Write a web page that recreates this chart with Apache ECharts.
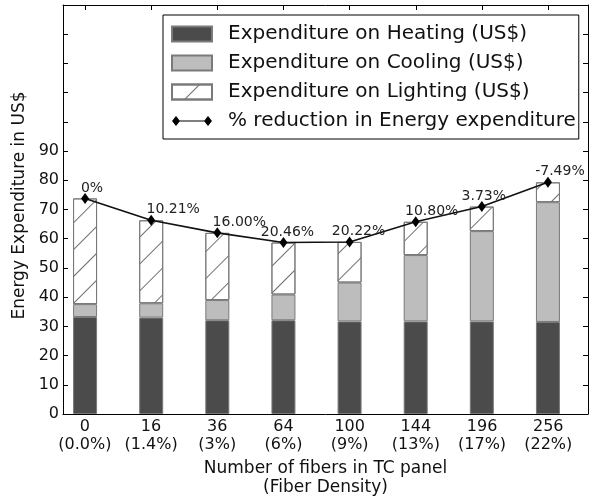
<!DOCTYPE html>
<html>
<head>
<meta charset="utf-8">
<script src="https://cdn.jsdelivr.net/npm/echarts@6/dist/echarts.min.js"></script>
<style>
  html, body { margin: 0; padding: 0; background: #fff; }
  #chart { width: 593px; height: 496px; }
</style>
</head>
<body>
<div id="chart"></div>
<script>
// values
let fibers = ['0', '16', '36', '64', '100', '144', '196', '256'];
let density = ['0.0%', '1.4%', '3%', '6%', '9%', '13%', '17%', '22%'];
let heating = [33.2, 33.0, 32.1, 32.1, 31.7, 31.7, 31.7, 31.5];
let cooling = [4.4, 4.9, 6.9, 8.8, 13.3, 22.7, 30.9, 41.0];
let lighting = [36.2, 28.4, 23.0, 17.8, 13.9, 11.4, 8.4, 6.8];
let totals = [73.8, 66.3, 62.0, 58.7, 58.9, 65.8, 71.0, 79.3];
let reduction = ['0%', '10.21%', '16.00%', '20.46%', '20.22%', '10.80%', '3.73%', '-7.49%'];

// label nudges so the annotations sit like the original
let labelDx = [7, 22, 22, 4, 9, 16, 2, 12];

let font = 'DejaVu Sans';
let idx = fibers.map((f, i) => i);

let chart = echarts.init(document.getElementById('chart'));

// grid 0 only draws the box, ticks and labels; grid 1 holds the bars
let frameX = {
  type: 'value',
  gridIndex: 0,
  min: -0.33,
  max: 7.6,
  axisLine: { show: true, onZero: false, lineStyle: { color: '#000', width: 1 } },
  axisTick: { show: true, inside: true, length: 5, customValues: idx, lineStyle: { color: '#000' } },
  axisLabel: { show: false },
  splitLine: { show: false }
};

let frameY = {
  type: 'value',
  gridIndex: 0,
  min: 0,
  max: 140,
  interval: 10,
  axisLine: { show: true, onZero: false, lineStyle: { color: '#000', width: 1 } },
  axisTick: { show: true, inside: true, length: 5, lineStyle: { color: '#000' } },
  axisLabel: { show: false },
  splitLine: { show: false }
};

let barEdge = { borderColor: '#7a7a7a', borderWidth: 1 };

let option = {
  animation: false,
  textStyle: { fontFamily: font },
  grid: [
    { left: 63, right: 5, top: 5, bottom: 82, outerBoundsMode: 'none' },
    { left: 52, right: 12, top: 5, bottom: 82, outerBoundsMode: 'none' }
  ],
  legend: {
    orient: 'vertical',
    left: 163,
    top: 15,
    backgroundColor: '#fff',
    borderColor: '#000',
    borderWidth: 1,
    borderRadius: 0,
    padding: [9, 3, 8, 8],
    itemWidth: 40,
    itemHeight: 15,
    itemGap: 9,
    textStyle: { fontFamily: font, fontSize: 20, color: '#111', padding: [0, 0, 0, 11] },
    data: [
      { name: 'Expenditure on Heating (US$)', icon: 'rect' },
      { name: 'Expenditure on Cooling (US$)', icon: 'rect' },
      { name: 'Expenditure on Lighting (US$)', icon: 'rect' },
      { name: '% reduction in Energy expenditure',
        icon: 'path://M0,5 L4,0 L8,5 L4,10 Z M7,4.4 L33,4.4 L33,5.6 L7,5.6 Z M32,5 L36,0 L40,5 L36,10 Z',
        itemStyle: { color: '#000' } }
    ]
  },
  xAxis: [
    Object.assign({}, frameX, {
      position: 'bottom',
      axisLabel: {
        show: true,
        customValues: idx,
        fontFamily: font,
        fontSize: 16,
        color: '#111',
        lineHeight: 18,
        margin: 4,
        formatter: v => fibers[Math.round(v)] + '\n(' + density[Math.round(v)] + ')'
      },
      name: 'Number of fibers in TC panel\n(Fiber Density)',
      nameLocation: 'middle',
      nameGap: 45,
      nameTextStyle: { fontFamily: font, fontSize: 17, color: '#111', lineHeight: 19 }
    }),
    Object.assign({}, frameX, { position: 'top' }),
    {
      type: 'category',
      gridIndex: 1,
      data: fibers,
      show: false
    }
  ],
  yAxis: [
    Object.assign({}, frameY, {
      position: 'left',
      axisLabel: {
        show: true,
        fontFamily: font,
        fontSize: 16,
        color: '#111',
        margin: 4,
        formatter: v => (v <= 90 ? String(v) : '')
      },
      name: 'Energy Expenditure in US$',
      nameLocation: 'middle',
      nameGap: 27,
      nameTextStyle: { fontFamily: font, fontSize: 17, color: '#111', padding: [0, 0, 0, 8] }
    }),
    Object.assign({}, frameY, { position: 'right' }),
    {
      type: 'value',
      gridIndex: 1,
      min: 0,
      max: 140,
      show: false
    }
  ],
  series: [
    {
      name: 'Expenditure on Heating (US$)',
      type: 'bar',
      xAxisIndex: 2,
      yAxisIndex: 2,
      stack: 'cost',
      barWidth: 24,
      itemStyle: Object.assign({ color: '#4b4b4b' }, barEdge),
      data: heating
    },
    {
      name: 'Expenditure on Cooling (US$)',
      type: 'bar',
      xAxisIndex: 2,
      yAxisIndex: 2,
      stack: 'cost',
      barWidth: 24,
      itemStyle: Object.assign({ color: '#bdbdbd' }, barEdge),
      data: cooling
    },
    {
      name: 'Expenditure on Lighting (US$)',
      type: 'bar',
      xAxisIndex: 2,
      yAxisIndex: 2,
      stack: 'cost',
      barWidth: 24,
      itemStyle: Object.assign({
        color: '#fff',
        decal: {
          symbol: 'rect',
          symbolSize: 1,
          dashArrayX: [1, 0],
          dashArrayY: [1, 18],
          rotation: -Math.PI / 4,
          color: '#707070'
        }
      }, barEdge),
      data: lighting
    },
    {
      name: '% reduction in Energy expenditure',
      type: 'line',
      xAxisIndex: 2,
      yAxisIndex: 2,
      symbol: 'diamond',
      symbolSize: [8, 11],
      itemStyle: { color: '#000' },
      lineStyle: { color: '#111', width: 1.6 },
      z: 5,
      data: totals.map((v, i) => ({
        value: v,
        label: {
          show: true,
          position: 'top',
          distance: -2,
          offset: [labelDx[i], 0],
          fontFamily: font,
          fontSize: 14,
          color: '#222',
          formatter: () => reduction[i]
        }
      }))
    }
  ]
};

chart.setOption(option);
</script>
</body>
</html>
